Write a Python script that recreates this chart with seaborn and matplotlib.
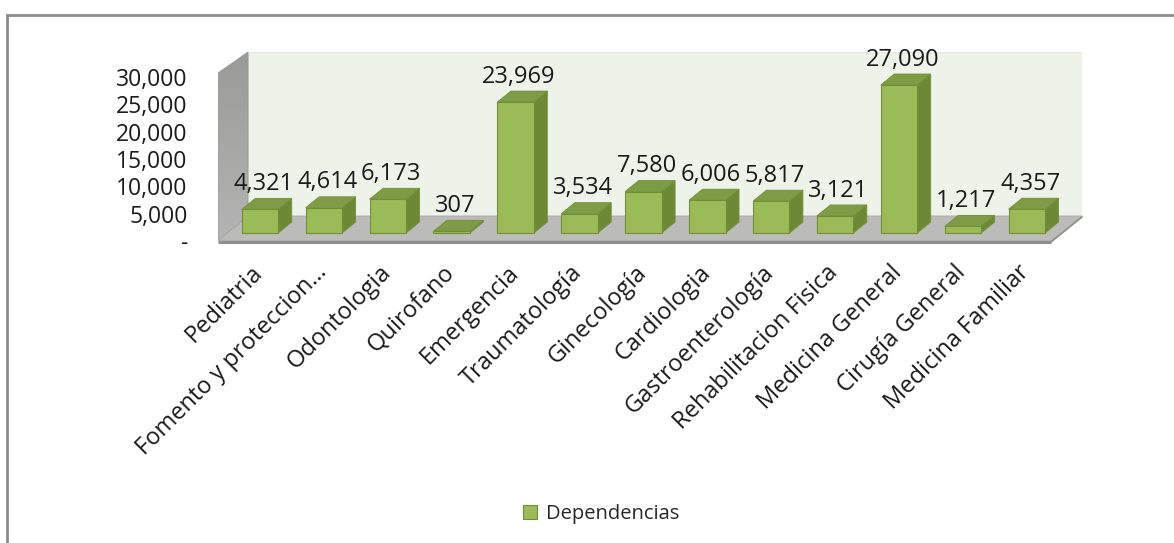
import matplotlib
matplotlib.use("Agg")
import matplotlib.pyplot as plt
import matplotlib.transforms as mtrans
from matplotlib.patches import Polygon, Rectangle, Patch
from matplotlib.ticker import FuncFormatter
import numpy as np
import seaborn as sns

# ---------------- data ----------------
categories = ["Pediatria", "Fomento y proteccion…", "Odontologia", "Quirofano",
              "Emergencia", "Traumatología", "Ginecología", "Cardiologia",
              "Gastroenterología", "Rehabilitacion Fisica", "Medicina General",
              "Cirugía General", "Medicina Familiar"]
values = [4321, 4614, 6173, 307, 23969, 3534, 7580, 6006, 5817, 3121, 27090, 1217, 4357]
series_name = "Dependencias"
y_ticks = [0, 5000, 10000, 15000, 20000, 25000, 30000]

# ---------------- style ----------------
FRONT = "#9BBB59"
SIDE = "#6C8A36"
TOP = "#7E9C45"
EDGE = "#718F37"
BACKWALL = "#EEF3E9"
FLOOR = "#BBBBBA"

sns.set_theme(style="white")
plt.rcParams['font.family'] = ['Open Sans', 'DejaVu Sans']

W, H = 1174, 543
fig = plt.figure(figsize=(W / 100, H / 100), dpi=100)

# axes area in pixels (left, right, top, bottom)
L_px, R_px, T_px, B_px = 218, 1082, 52, 241
ax = fig.add_axes([L_px / W, 1 - B_px / H, (R_px - L_px) / W, (B_px - T_px) / H])

sns.barplot(x=categories, y=values, color=FRONT, saturation=1, width=0.57,
            edgecolor=EDGE, linewidth=0.8, ax=ax, zorder=5)

# scales (pixel geometry of the pseudo-3D box)
step_px = 63.9
x0_px = 260.0
zero_px = 233.0
u = 27090 / 148.0  # data units per pixel
def xd(px):
    return (px - x0_px) / step_px
def yd(py):
    return (zero_px - py) * u

ax.set_xlim(xd(L_px), xd(R_px))
ax.set_ylim(yd(B_px), yd(T_px))

dx = 13.5 / step_px
dy = 11 * u

# back wall, left wall, floor
xbl = xd(248)
ax.add_patch(Rectangle((xbl, yd(216)), xd(R_px) - xbl, yd(T_px) - yd(216),
                       facecolor=BACKWALL, edgecolor="#E3EADB", lw=0.8, zorder=1))
left_wall = Polygon([(xd(218), yd(241)), (xd(218), yd(73)), (xbl, yd(52)), (xbl, yd(216))],
                    closed=True, facecolor="none", edgecolor="#969696", lw=0.6, zorder=2)
ax.add_patch(left_wall)
grad = np.linspace(0, 1, 256).reshape(-1, 1)
im = ax.imshow(grad, extent=(xd(218), xbl, yd(241), yd(52)), aspect="auto",
               cmap=matplotlib.colors.LinearSegmentedColormap.from_list("g", ["#B4B4B4", "#9A9A98"]),
               origin="lower", zorder=1.5)
im.set_clip_path(left_wall)
floor = Polygon([(xd(218), yd(241)), (xbl, yd(216)), (xd(R_px), yd(216)), (xd(1051), yd(241))],
                closed=True, facecolor=FLOOR, edgecolor="#A8A8A8", lw=0.6, zorder=2)
ax.add_patch(floor)
ax.plot([xd(218), xd(1051)], [yd(242), yd(242)], color="#8E8E8E", lw=2.2,
        solid_capstyle="butt", clip_on=False, zorder=3)
ax.plot([xd(1051), xd(R_px)], [yd(242), yd(217)], color="#8E8E8E", lw=1.2,
        clip_on=False, zorder=3)

# 3D faces and data labels derived from the bars seaborn drew
bars = [p for p in ax.patches if isinstance(p, Rectangle) and p.get_zorder() == 5]
for p, v in zip(bars, values):
    x0, w, h = p.get_x(), p.get_width(), p.get_height()
    side = Polygon([(x0 + w, 0), (x0 + w + dx, dy), (x0 + w + dx, h + dy), (x0 + w, h)],
                   closed=True, facecolor=SIDE, edgecolor=EDGE, lw=0.6, zorder=4)
    top = Polygon([(x0, h), (x0 + w, h), (x0 + w + dx, h + dy), (x0 + dx, h + dy)],
                  closed=True, facecolor=TOP, edgecolor=EDGE, lw=0.6, zorder=4)
    ax.add_patch(side)
    ax.add_patch(top)
    ax.annotate(f"{v:,}", xy=(x0 + w / 2 + dx / 4, h + dy), xytext=(0, 6),
                textcoords="offset points", ha="center", va="baseline",
                fontsize=17, color="#1A1A1A", zorder=6, annotation_clip=False)

# axes cosmetics
for s in ax.spines.values():
    s.set_visible(False)
ax.grid(False)
ax.set_xlabel("")
ax.set_ylabel("")
ax.set_yticks(y_ticks)
ax.yaxis.set_major_formatter(FuncFormatter(lambda v, pos: "-" if v == 0 else f"{int(v):,}"))
ax.tick_params(axis="y", length=0, pad=22, labelsize=16.5, labelcolor="#1A1A1A")
offset = mtrans.ScaledTranslation(0, -8 / 100, fig.dpi_scale_trans)
for lab in ax.get_yticklabels():
    lab.set_transform(lab.get_transform() + offset)

ax.set_xticks(range(len(categories)))
ax.set_xticklabels(categories, rotation=45, ha="right", rotation_mode="anchor",
                   fontsize=17, color="#1A1A1A")
ax.tick_params(axis="x", length=0, pad=14)
xoff = mtrans.ScaledTranslation(-9 / 100, 0, fig.dpi_scale_trans)
for lab in ax.get_xticklabels():
    lab.set_transform(lab.get_transform() + xoff)

# legend
ax.legend(handles=[Patch(facecolor=FRONT, edgecolor=EDGE, lw=0.8, label=series_name)],
          loc="center", bbox_to_anchor=(601 / W, 1 - 514 / H), bbox_transform=fig.transFigure,
          frameon=False, fontsize=14.5, handlelength=0.7, handleheight=0.7, handletextpad=0.45)

# outer chart border
fig.patches.append(Rectangle((7 / W, -0.05), 1.2, (H - 15) / H + 0.05, transform=fig.transFigure,
                             fill=False, edgecolor="#8C8C8C", lw=2, figure=fig))

fig.savefig("out.png", dpi=100)
